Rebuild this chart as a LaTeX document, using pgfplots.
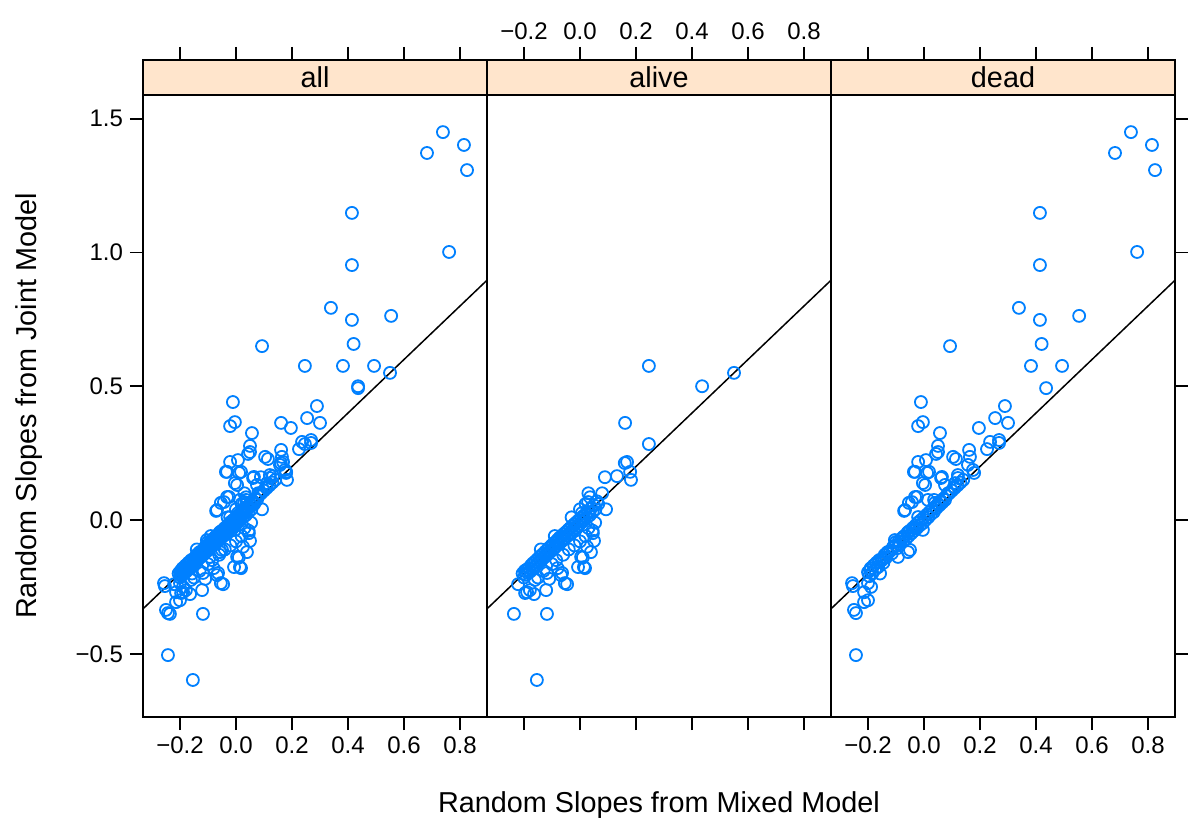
\documentclass[border=0pt]{standalone}
\usepackage{fontspec}
\setmainfont{Liberation Sans}
\usepackage{pgfplots}
\usepackage{pgfplotstable}
\pgfplotsset{compat=1.18}

\definecolor{ptblue}{HTML}{0080FF}
\definecolor{strip}{HTML}{FFE5CC}

% random slopes, alive subjects
\pgfplotstableread{
x y
0.246 0.576
0.436 0.500
0.550 0.550
0.161 0.363
0.246 0.284
0.160 0.213
0.168 0.217
0.179 0.180
0.182 0.150
0.132 0.164
0.089 0.160
-0.236 -0.351
-0.118 -0.351
-0.154 -0.598
-0.221 -0.240
-0.189 -0.270
-0.164 -0.277
-0.121 -0.262
-0.068 -0.206
-0.046 -0.240
-0.007 -0.176
0.018 -0.180
0.039 -0.120
0.050 -0.078
0.054 -0.010
0.093 0.040
0.030 0.100
0.079 0.100
0.036 0.085
0.029 0.067
0.007 0.026
0.046 -0.049
0.004 -0.138
0.014 -0.176
-0.064 -0.198
-0.054 -0.236
-0.118 -0.198
-0.161 -0.224
-0.179 -0.262
-0.196 -0.273
-0.205 -0.200
-0.200 -0.215
-0.197 -0.190
-0.193 -0.205
-0.190 -0.185
-0.186 -0.198
-0.182 -0.180
-0.178 -0.193
-0.175 -0.170
-0.171 -0.185
-0.168 -0.162
-0.164 -0.178
-0.160 -0.155
-0.157 -0.170
-0.153 -0.148
-0.150 -0.160
-0.146 -0.140
-0.142 -0.155
-0.139 -0.133
-0.135 -0.147
-0.131 -0.126
-0.128 -0.140
-0.124 -0.118
-0.120 -0.133
-0.117 -0.112
-0.113 -0.126
-0.110 -0.104
-0.106 -0.118
-0.102 -0.096
-0.098 -0.112
-0.095 -0.088
-0.091 -0.104
-0.087 -0.082
-0.084 -0.097
-0.080 -0.074
-0.076 -0.090
-0.073 -0.066
-0.069 -0.083
-0.065 -0.060
-0.061 -0.076
-0.058 -0.052
-0.054 -0.068
-0.050 -0.045
-0.046 -0.060
-0.042 -0.037
-0.039 -0.053
-0.035 -0.030
-0.031 -0.046
-0.027 -0.022
-0.023 -0.038
-0.020 -0.015
-0.016 -0.030
-0.012 -0.008
-0.008 -0.022
-0.004 0.000
0.000 -0.015
0.004 0.008
0.008 -0.006
0.012 0.015
0.016 0.002
0.020 0.022
0.025 0.010
0.030 0.030
0.035 0.018
0.040 0.045
0.045 0.030
0.050 0.055
0.055 0.040
0.060 0.070
0.065 0.060
-0.150 -0.215
-0.130 -0.190
-0.100 -0.165
-0.085 -0.150
-0.060 -0.130
-0.040 -0.110
-0.020 -0.095
0.000 -0.080
0.020 -0.060
0.030 -0.030
-0.110 -0.220
-0.080 -0.180
0.010 -0.140
0.025 -0.100
0.045 -0.040
-0.140 -0.110
-0.090 -0.060
-0.030 0.010
0.000 0.040
0.020 0.060
}\alive

% random slopes, dead subjects
\pgfplotstableread{
x y
0.739 1.450
0.814 1.402
0.682 1.372
0.825 1.308
0.414 1.148
0.414 0.953
0.761 1.002
0.339 0.793
0.414 0.748
0.554 0.763
0.420 0.658
0.093 0.650
0.382 0.576
0.493 0.576
0.436 0.493
-0.011 0.441
-0.021 0.351
-0.004 0.366
0.057 0.325
0.050 0.277
0.050 0.254
0.043 0.247
-0.036 0.180
-0.021 0.217
0.007 0.224
0.018 0.180
0.004 0.131
-0.004 0.138
0.061 0.157
0.104 0.236
0.114 0.228
0.161 0.262
0.164 0.236
0.157 0.206
0.175 0.187
0.179 0.176
0.196 0.344
0.254 0.381
0.289 0.426
0.300 0.363
0.225 0.265
0.236 0.292
0.268 0.299
0.268 0.288
0.121 0.157
0.107 0.123
0.086 0.100
-0.025 0.086
-0.054 0.064
-0.071 0.034
0.036 0.075
-0.243 -0.505
-0.243 -0.348
-0.250 -0.336
-0.254 -0.247
-0.214 -0.307
-0.200 -0.300
-0.214 -0.270
-0.189 -0.250
-0.193 -0.187
-0.157 -0.200
-0.161 -0.157
-0.143 -0.142
-0.129 -0.124
-0.093 -0.138
-0.057 -0.120
-0.100 -0.082
-0.032 0.180
0.011 0.176
0.064 0.161
0.121 0.168
0.075 0.131
0.111 0.138
-0.032 0.086
-0.068 0.037
-0.043 0.067
0.014 0.075
0.039 0.064
-0.021 0.011
-0.032 -0.030
-0.004 -0.037
-0.057 -0.045
-0.075 -0.064
-0.104 -0.075
-0.050 -0.112
-0.150 -0.150
-0.164 -0.176
-0.186 -0.198
-0.200 -0.236
-0.257 -0.236
-0.200 -0.195
-0.195 -0.210
-0.190 -0.180
-0.185 -0.200
-0.180 -0.170
-0.175 -0.185
-0.170 -0.160
-0.165 -0.175
-0.160 -0.150
-0.150 -0.145
-0.145 -0.160
-0.140 -0.130
-0.135 -0.140
-0.130 -0.120
-0.120 -0.115
-0.115 -0.125
-0.110 -0.100
-0.100 -0.095
-0.095 -0.105
-0.090 -0.080
-0.085 -0.090
-0.080 -0.070
-0.075 -0.080
-0.070 -0.060
-0.065 -0.072
-0.060 -0.050
-0.055 -0.060
-0.050 -0.040
-0.045 -0.050
-0.040 -0.030
-0.035 -0.040
-0.030 -0.020
-0.025 -0.030
-0.020 -0.008
-0.015 -0.020
-0.010 0.000
-0.005 -0.012
0.000 0.010
0.005 0.000
0.010 0.020
0.015 0.010
0.020 0.030
0.025 0.022
0.030 0.040
0.035 0.030
0.040 0.050
0.045 0.045
0.050 0.060
0.055 0.055
0.060 0.070
0.065 0.065
0.070 0.080
0.075 0.075
0.080 0.090
0.090 0.100
0.100 0.110
0.110 0.120
0.120 0.130
0.130 0.140
0.140 0.150
}\dead

\pgfplotsset{
  panel/.style={
    anchor=south west, width=172pt, height=328.5pt, scale only axis,
    xmin=-0.3321, xmax=0.8964, ymin=-0.7364, ymax=1.7196,
    axis on top,
    axis line style={line width=0.8pt},
    tick style={black, line width=0.8pt},
    tick align=outside, major tick length=6.5pt,
    xtick={-0.2,0,0.2,0.4,0.6,0.8},
    xticklabels={−0.2,0.0,0.2,0.4,0.6,0.8},
    ytick={-0.5,0,0.5,1,1.5},
    yticklabels={−0.5,0.0,0.5,1.0,1.5},
    xtick pos=both,
    ticklabel style={font=\fontsize{12}{14}\selectfont},
    execute at end axis={
      \fill[strip] (rel axis cs:0,0.94674) rectangle (rel axis cs:1,1);
      \draw[line width=0.8pt] (rel axis cs:0,0.94674) -- (rel axis cs:1,0.94674);
      \node[font=\fontsize{14.4}{16}\selectfont] at (rel axis cs:0.5,0.97337) {#1};
    },
  },
  pts/.style={only marks, mark=o, mark size=3pt, ptblue, mark options={line width=0.9pt}},
  diag/.style={black, line width=0.75pt, mark=none},
}

\begin{document}
\begin{tikzpicture}
\begin{axis}[panel=all, at={(0pt,0pt)}, xticklabel pos=lower, ytick pos=left]
\addplot[diag] coordinates {(-0.34,-0.34) (0.9,0.9)};
\addplot[pts] table {\alive};
\addplot[pts] table {\dead};
\end{axis}
\begin{axis}[panel=alive, at={(172pt,0pt)}, xticklabel pos=upper, ytick=\empty]
\addplot[diag] coordinates {(-0.34,-0.34) (0.9,0.9)};
\addplot[pts] table {\alive};
\end{axis}
\begin{axis}[panel=dead, at={(344pt,0pt)}, xticklabel pos=lower, ytick pos=right, yticklabels={}]
\addplot[diag] coordinates {(-0.34,-0.34) (0.9,0.9)};
\addplot[pts] table {\dead};
\end{axis}
\node[rotate=90, font=\fontsize{14.4}{16}\selectfont] at (-57pt,155.5pt) {Random Slopes from Joint Model};
\node[font=\fontsize{14.4}{16}\selectfont] at (258pt,-44pt) {Random Slopes from Mixed Model};
\pgfresetboundingbox
\path[use as bounding box] (-71.5pt,-53.5pt) rectangle (522.5pt,358.5pt);
\end{tikzpicture}
\end{document}
